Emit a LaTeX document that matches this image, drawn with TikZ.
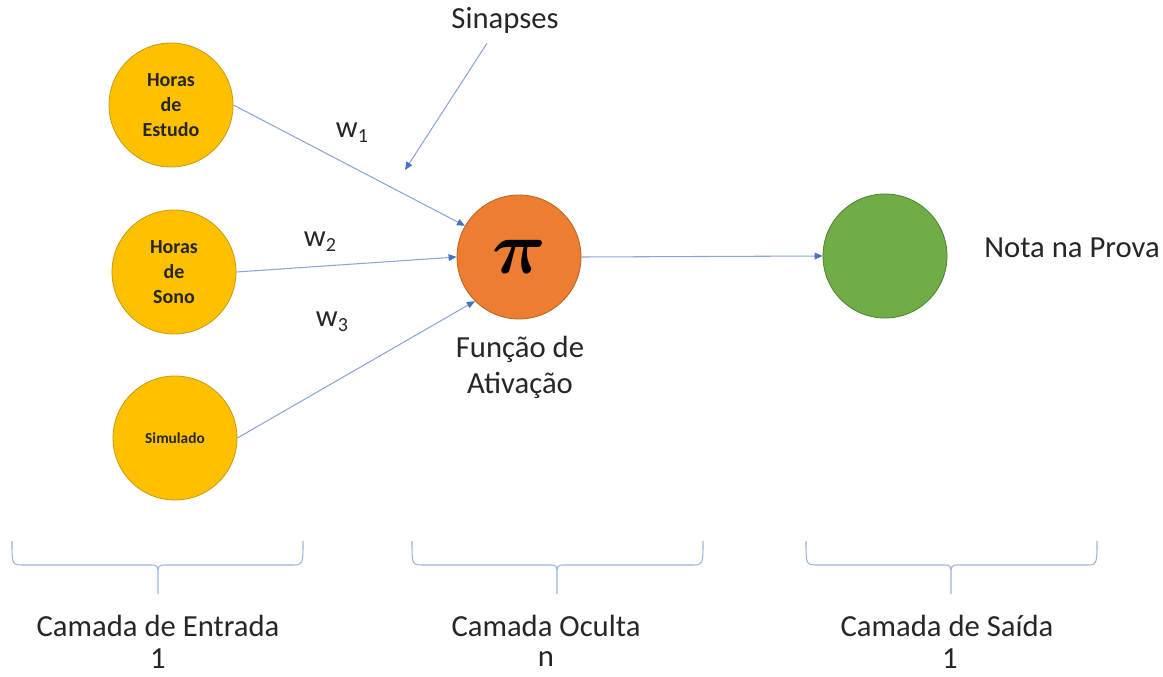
\documentclass[tikz,border=0pt]{standalone}
\usepackage{fontspec}
\setmainfont{Carlito}
\usetikzlibrary{arrows.meta,calc}
\definecolor{inyel}{HTML}{FFC000}
\definecolor{inyelb}{HTML}{C49A10}
\definecolor{piorg}{HTML}{ED7D31}
\definecolor{piorgb}{HTML}{B4621F}
\definecolor{outgrn}{HTML}{70AD47}
\definecolor{outgrnb}{HTML}{4F7F32}
\definecolor{arrblue}{HTML}{4472C4}
\definecolor{linblue}{HTML}{8EA6D6}
\definecolor{bracecol}{HTML}{9DB3DC}
\definecolor{txt}{HTML}{262626}
\begin{document}
\begin{tikzpicture}[x=0.75pt,y=-0.75pt,
  inpnode/.style={circle,minimum size=93pt,inner sep=0pt,fill=inyel,draw=inyelb,line width=0.6pt,
    align=center,font=\bfseries\fontsize{15}{18.6}\selectfont,text=black!85},
  pinode/.style={circle,minimum size=93pt,inner sep=0pt,fill=piorg,draw=piorgb,line width=0.6pt},
  outnode/.style={circle,minimum size=93pt,inner sep=0pt,fill=outgrn,draw=outgrnb,line width=0.6pt},
  lbl/.style={font=\fontsize{23}{25}\selectfont,text=txt,align=center,inner sep=0pt},
  arr/.style={draw=linblue,line width=0.8pt,-{Triangle[length=6pt,width=5pt,fill=arrblue,color=arrblue]}},
  bracepath/.style={draw=bracecol,line width=0.8pt}
]
\useasboundingbox (0,0) rectangle (1163,677);

% nodes
\node[inpnode] (in1) at (171,105) {Horas\\de\\Estudo};
\node[inpnode] (in2) at (174,272) {Horas\\de\\Sono};
\node[inpnode,font=\bfseries\fontsize{11.5}{14}\selectfont] (in3) at (175,438) {Simulado};
\node[pinode] (pi) at (519,257) {\raisebox{-0.3ex}{\scalebox{5.6}{\boldmath$\pi$}}};
\node[outnode] (out) at (885,256) {};

% labels
\node[lbl] (sin) at (505,20) {Sinapses};
\node[lbl] (fa) at (520,367) {Função de\\[2pt]Ativação};
\node[lbl] (nota) at (1072,248) {Nota na Prova};
\node[lbl] (w1) at (352,133) {w\raisebox{-0.35ex}{\fontsize{15}{15}\selectfont 1}};
\node[lbl] (w2) at (320,242) {w\raisebox{-0.35ex}{\fontsize{15}{15}\selectfont 2}};
\node[lbl] (w3) at (332,322) {w\raisebox{-0.35ex}{\fontsize{15}{15}\selectfont 3}};

% connectors
\draw[arr] (in1.east) -- (pi.150);
\draw[arr] (in2.east) -- (pi.west);
\draw[arr] (in3.east) -- (pi.225);
\draw[arr] (pi.east) -- (out.west);
\coordinate (syn) at (405,170);
\draw[arr] ($(sin.south)+(-18,10)$) -- (syn);

% braces
\foreach \xa/\xc/\xb in {12/158/303, 412/557/703, 806/951/1097}{
  \draw[bracepath] (\xa,541) .. controls (\xa,565) .. (\xa+12,565) -- (\xc-9,565)
    .. controls (\xc,565) .. (\xc,576) -- (\xc,594)
    (\xc,576) .. controls (\xc,565) .. (\xc+9,565) -- (\xb-12,565)
    .. controls (\xb,565) .. (\xb,541);
}

% layer labels
\node[lbl] (l1) at (158,626) {Camada de Entrada};
\node[lbl] (n1) at (158,659) {1};
\node[lbl] (l2) at (546,626) {Camada Oculta};
\node[lbl] (n2) at (546,659) {n};
\node[lbl] (l3) at (947,626) {Camada de Saída};
\node[lbl] (n3) at (950,659) {1};
\end{tikzpicture}
\end{document}
